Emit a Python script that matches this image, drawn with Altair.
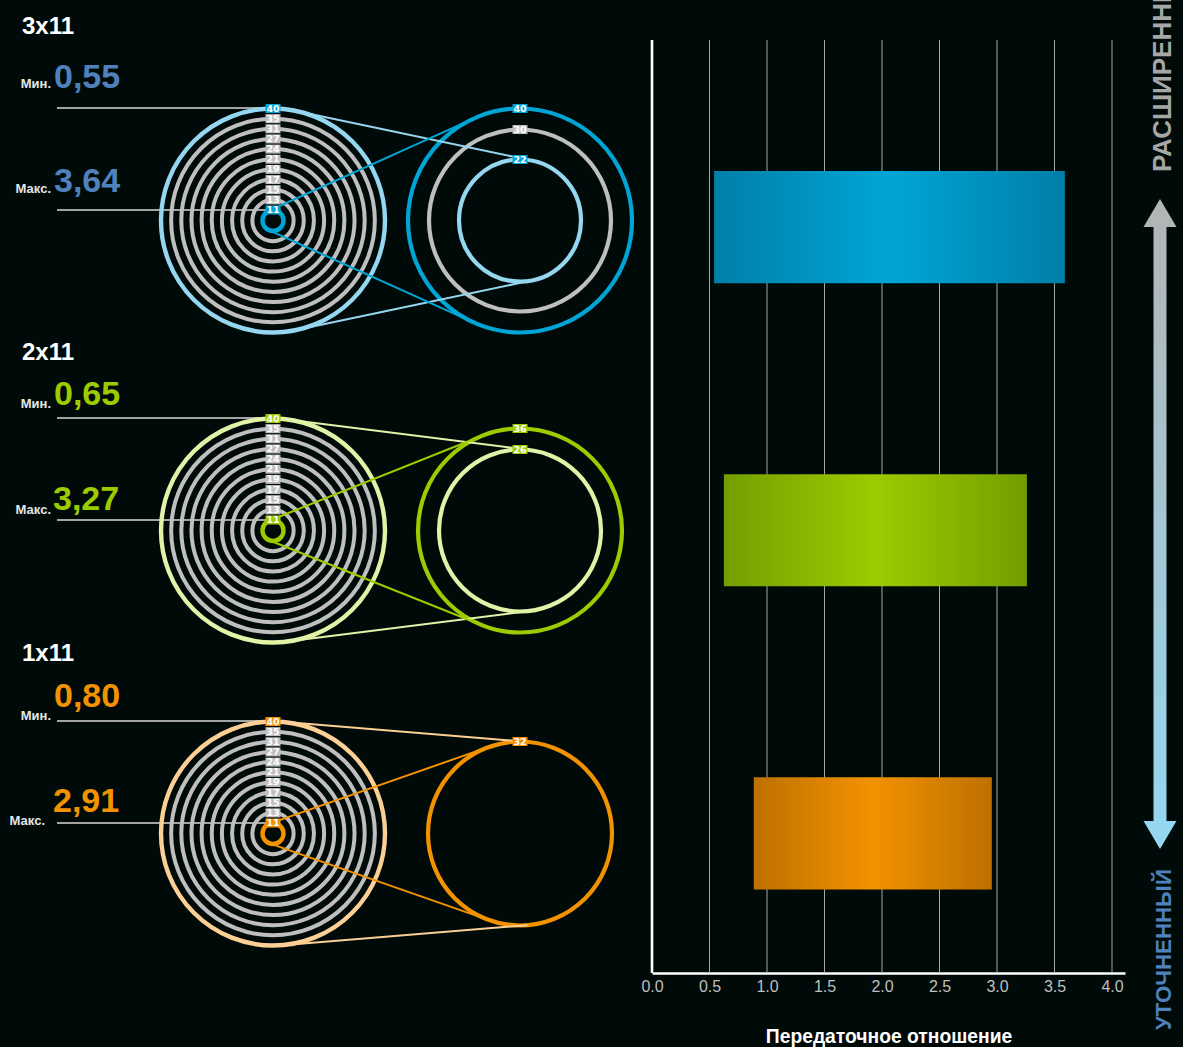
import math
import altair as alt
import pandas as pd

BG = "#000b09"
SANS = "Liberation Sans"
LABEL_FONT = "DejaVu Sans"

# ---- values
DRIVETRAINS = ["3x11", "2x11", "1x11"]
RATIO_MIN_LABEL = ["0,55", "0,65", "0,80"]
RATIO_MAX_LABEL = ["3,64", "3,27", "2,91"]
BAR_START = [0.54, 0.625, 0.885]
BAR_END = [3.59, 3.26, 2.955]
CASSETTE_TEETH = [11, 13, 15, 17, 19, 21, 24, 27, 31, 35, 40]
CHAINRING_TEETH = [[40, 30, 22], [36, 26], [32]]
CHAINRING_RADII = [[112, 91, 61], [102, 81], [92]]
X_TICKS = [0.0, 0.5, 1.0, 1.5, 2.0, 2.5, 3.0, 3.5, 4.0]
AXIS_TITLE = "Передаточное отношение"
WIDE_LABEL = "РАСШИРЕННЫЙ"
FINE_LABEL = "УТОЧНЕННЫЙ"

# ---- layout and styles
ROW_CENTER = [220.5, 530.5, 833.5]
CASSETTE_X, RING_X = 273, 520
DARK = ["#00a5d6", "#9bcb00", "#f39200"]
LIGHT = ["#95d6f0", "#e2f3a8", "#fccf95"]
EDGE = ["#007fa8", "#739e00", "#bd7000"]
VALUE_COLOR = ["#4f81bd", "#9bcb00", "#f39200"]
GREY = "#bfbfbf"
STEP = 10.15
cassette_radius = {t: 10.5 + i * STEP for i, t in enumerate(CASSETTE_TEETH)}

circles, connectors, tags, leaders = [], [], [], []


def tangent(cx1, r1, cx2, r2, cy, sign):
    s = (r1 - r2) / (cx2 - cx1)
    c = math.sqrt(1 - s * s)
    return dict(x=cx1 + r1 * s, y=cy + sign * r1 * c, x2=cx2 + r2 * s, y2=cy + sign * r2 * c)


for i, cy in enumerate(ROW_CENTER):
    for t in CASSETTE_TEETH:
        r = cassette_radius[t]
        col = DARK[i] if t == 11 else LIGHT[i] if t == 40 else GREY
        w = 4.4 if t in (11, 40) else 4
        circles.append(dict(x=CASSETTE_X, y=cy, size=(2 * r) ** 2, col=col, w=w))
        tags.append(dict(x=CASSETTE_X, y=cy - r, t=t, bg=DARK[i] if t in (11, 40) else GREY))
    teeth = CHAINRING_TEETH[i]
    radii = CHAINRING_RADII[i]
    for j, (t, r) in enumerate(zip(teeth, radii)):
        if j == 0:
            col = DARK[i]
        elif j == len(teeth) - 1:
            col = LIGHT[i]
        else:
            col = GREY
        circles.append(dict(x=RING_X, y=cy, size=(2 * r) ** 2, col=col, w=4.2))
        tags.append(dict(x=RING_X, y=cy - r, t=t, bg=DARK[i] if col != GREY else GREY))
    for sign in (-1, 1):
        connectors.append(dict(tangent(CASSETTE_X, 112, RING_X, radii[-1], cy, sign), col=LIGHT[i]))
        connectors.append(dict(tangent(CASSETTE_X, 10.5, RING_X, radii[0], cy, sign), col=DARK[i]))
    leaders.append(dict(x=57, x2=CASSETTE_X, y=cy - 112.5))
    leaders.append(dict(x=57, x2=CASSETTE_X, y=cy - 10.5))

texts = []
HEAD_POS = [(22, 34), (22, 360), (22, 661)]
MIN_WORD = [(51, 88), (51, 408), (51, 720)]
MIN_VAL = [(54, 88), (54, 405), (54, 707)]
MAX_WORD = [(51, 193), (51, 514), (45, 825)]
MAX_VAL = [(54, 192), (53, 510), (53, 812)]
for i, name in enumerate(DRIVETRAINS):
    texts.append(dict(x=HEAD_POS[i][0], y=HEAD_POS[i][1], s=name, fs=24, col="#ffffff", al="left"))
    texts.append(dict(x=MIN_WORD[i][0], y=MIN_WORD[i][1], s="Мин.", fs=13, col="#e6e6e6", al="right"))
    texts.append(dict(x=MAX_WORD[i][0], y=MAX_WORD[i][1], s="Макс.", fs=13, col="#e6e6e6", al="right"))
    texts.append(dict(x=MIN_VAL[i][0], y=MIN_VAL[i][1], s=RATIO_MIN_LABEL[i], fs=34, col=VALUE_COLOR[i], al="left"))
    texts.append(dict(x=MAX_VAL[i][0], y=MAX_VAL[i][1], s=RATIO_MAX_LABEL[i], fs=34, col=VALUE_COLOR[i], al="left"))

PX_X = alt.Scale(domain=[0, 652])
PX_Y = alt.Scale(domain=[1047, 0])
X = alt.X("x:Q", scale=PX_X, axis=None)
Y = alt.Y("y:Q", scale=PX_Y, axis=None)

leader_layer = alt.Chart(pd.DataFrame(leaders)).mark_rule(color="#d9d9d9", strokeWidth=1.4).encode(X, Y, x2="x2:Q")
circle_layer = alt.Chart(pd.DataFrame(circles)).mark_point(shape="circle", filled=False, opacity=1).encode(
    X, Y,
    size=alt.Size("size:Q", scale=None),
    stroke=alt.Stroke("col:N", scale=None),
    strokeWidth=alt.StrokeWidth("w:Q", scale=None),
)
connector_layer = alt.Chart(pd.DataFrame(connectors)).mark_rule(strokeWidth=2).encode(
    X, Y, x2="x2:Q", y2="y2:Q", color=alt.Color("col:N", scale=None)
)
tag_bg = alt.Chart(pd.DataFrame(tags)).mark_point(
    shape="M-1,-0.6H1V0.6H-1Z", filled=True, opacity=1, size=225
).encode(X, Y, fill=alt.Fill("bg:N", scale=None))
tag_text = alt.Chart(pd.DataFrame(tags)).mark_text(
    font=LABEL_FONT, fontSize=9.5, fontWeight="bold", color="#ffffff", baseline="middle"
).encode(X, Y, text="t:N")
text_layers = [
    alt.Chart(pd.DataFrame([t])).mark_text(
        font=SANS, fontWeight="bold", fontSize=t["fs"], color=t["col"], align=t["al"], baseline="alphabetic"
    ).encode(X, Y, text="s:N")
    for t in texts
]
left = alt.layer(leader_layer, circle_layer, connector_layer, tag_bg, tag_text, *text_layers).properties(
    width=652, height=1047
)

# ---- bars
RATIO_X = alt.Scale(domain=[0, 473 / 115], nice=False)
grid = alt.Chart(pd.DataFrame({"v": X_TICKS[1:]})).mark_rule(color="#a6a6a6", strokeWidth=1).encode(
    x=alt.X("v:Q", scale=RATIO_X, title=AXIS_TITLE, axis=alt.Axis(
        values=X_TICKS, format=".1f", grid=False, ticks=False,
        domainColor="#ffffff", domainWidth=2.6,
        labelColor=GREY, labelFont=SANS, labelFontSize=16, labelPadding=5, labelFlush=False,
        titleColor="#ffffff", titleFont=SANS, titleFontSize=19.3, titleFontWeight="bold", titlePadding=33,
    )),
    y=alt.value(40), y2=alt.value(973),
)
zero_rule = alt.Chart(pd.DataFrame({"v": [0.0]})).mark_rule(color="#ffffff", strokeWidth=2.6).encode(
    x=alt.X("v:Q", scale=RATIO_X), y=alt.value(40), y2=alt.value(973)
)
BAND = alt.Scale(domain=DRIVETRAINS, paddingInner=0.63, paddingOuter=0.42, align=0.672)
bars = []
for i, name in enumerate(DRIVETRAINS):
    df = pd.DataFrame({"name": [name], "a": [BAR_START[i]], "b": [BAR_END[i]]})
    grad = alt.Gradient(
        gradient="linear", x1=0, x2=1, y1=0, y2=0,
        stops=[
            alt.GradientStop(offset=0, color=EDGE[i]),
            alt.GradientStop(offset=0.5, color=DARK[i]),
            alt.GradientStop(offset=1, color=EDGE[i]),
        ],
    )
    bars.append(
        alt.Chart(df).mark_bar(color=grad).encode(
            x=alt.X("a:Q", scale=RATIO_X), x2="b:Q", y=alt.Y("name:N", scale=BAND, axis=None)
        )
    )
right = alt.layer(grid, zero_rule, *bars).properties(width=473, height=973)

# ---- arrow column
ARROW_X = 35
arrow_grad = alt.Gradient(
    gradient="linear", x1=0, x2=0, y1=0, y2=1,
    stops=[alt.GradientStop(offset=0, color="#b3b6b7"), alt.GradientStop(offset=1, color="#95d6f0")],
)
arrow_y = alt.Y("y:Q", scale=PX_Y, axis=None)
shaft = alt.Chart(pd.DataFrame({"y": [226], "y2": [824]})).mark_rect(color=arrow_grad).encode(
    y=arrow_y, y2="y2:Q", x=alt.value(ARROW_X - 6.5), x2=alt.value(ARROW_X + 6.5)
)
head_up = alt.Chart(pd.DataFrame({"y": [213]})).mark_point(
    shape="M-1,0.85L1,0.85L0,-0.85Z", filled=True, opacity=1, color="#b3b6b7", size=1089
).encode(y=arrow_y, x=alt.value(ARROW_X))
head_down = alt.Chart(pd.DataFrame({"y": [835]})).mark_point(
    shape="M-1,-0.85L1,-0.85L0,0.85Z", filled=True, opacity=1, color="#95d6f0", size=1089
).encode(y=arrow_y, x=alt.value(ARROW_X))
wide = alt.Chart(pd.DataFrame({"y": [172], "s": [WIDE_LABEL]})).mark_text(
    font=SANS, fontWeight="bold", fontSize=26, angle=270, align="left", baseline="alphabetic",
    color="#a6a6a6", clip=True
).encode(y=arrow_y, x=alt.value(46), text="s:N")
fine = alt.Chart(pd.DataFrame({"y": [1030], "s": [FINE_LABEL]})).mark_text(
    font=SANS, fontWeight="bold", fontSize=22.3, angle=270, align="left", baseline="alphabetic",
    color="#4f81bd", clip=True
).encode(y=arrow_y, x=alt.value(46), text="s:N")
side = alt.layer(shaft, head_up, head_down, wide, fine).properties(width=58, height=1047)

chart = (
    alt.hconcat(left, right, side, spacing=0, bounds="flush")
    .properties(background=BG, padding=0)
    .configure_view(stroke=None)
)
chart.save(
    "out.html",
    embed_options={
        "renderer": "svg",
        "actions": False,
        "defaultStyle": "html,body{margin:0;padding:0;overflow:hidden;background:#000b09}",
    },
)
